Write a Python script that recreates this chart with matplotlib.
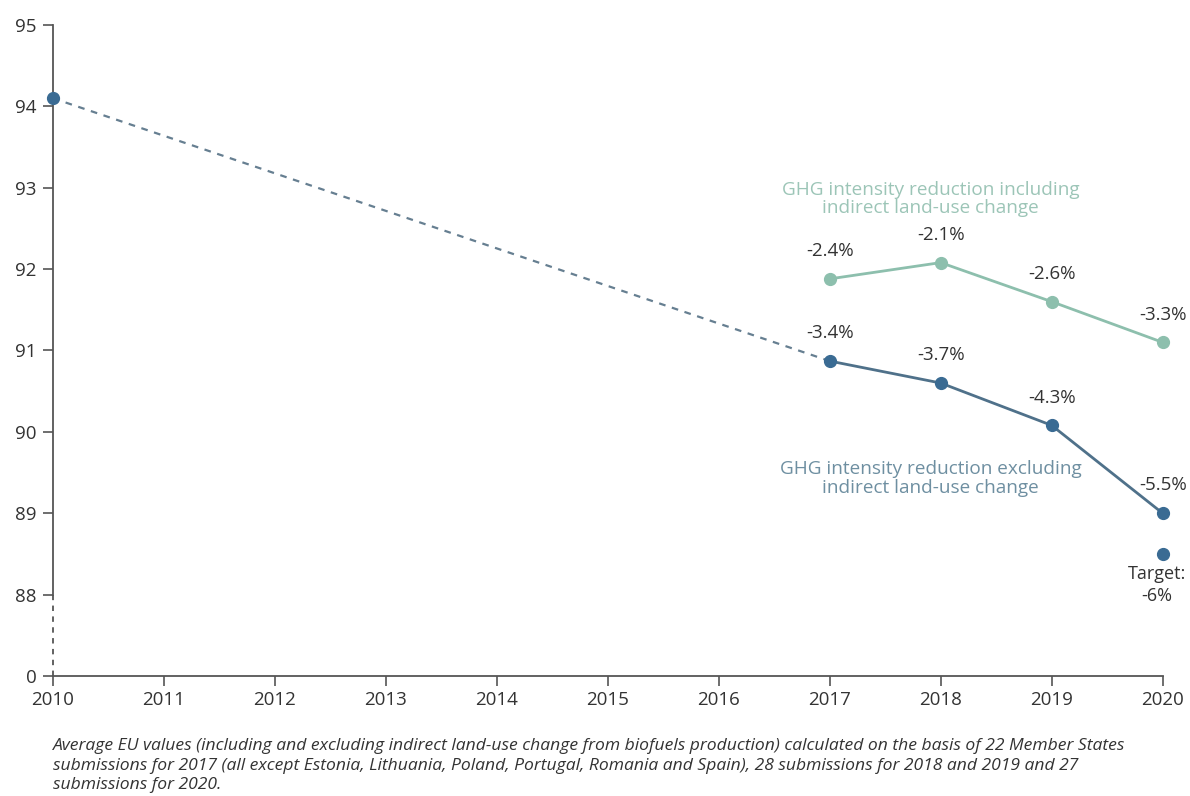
import matplotlib
matplotlib.use("Agg")
import matplotlib.pyplot as plt

plt.rcParams['font.family'] = ['Open Sans', 'DejaVu Sans']

years = [2010, 2011, 2012, 2013, 2014, 2015, 2016, 2017, 2018, 2019, 2020]
baseline_year = 2010
baseline_value = 94.1
excl_years = [2017, 2018, 2019, 2020]
excl_values = [90.87, 90.6, 90.08, 89.0]
excl_labels = ["-3.4%", "-3.7%", "-4.3%", "-5.5%"]
incl_years = [2017, 2018, 2019, 2020]
incl_values = [91.88, 92.08, 91.6, 91.1]
incl_labels = ["-2.4%", "-2.1%", "-2.6%", "-3.3%"]
target_year = 2020
target_value = 88.5
target_label = "Target:\n-6%"
ytick_values = [87, 88, 89, 90, 91, 92, 93, 94, 95]
ytick_labels = ["0", "88", "89", "90", "91", "92", "93", "94", "95"]
caption = ("Average EU values (including and excluding indirect land-use change from biofuels production) calculated on the basis of 22 Member States\n"
           "submissions for 2017 (all except Estonia, Lithuania, Poland, Portugal, Romania and Spain), 28 submissions for 2018 and 2019 and 27\n"
           "submissions for 2020.")

dark = "#3a6b93"
dark_line = "#4f718a"
light = "#8dbfad"
dash_col = "#667f91"
text_col = "#333333"

fig = plt.figure(figsize=(11.9, 7.96), dpi=100)
ax = fig.add_axes([0.0445, 0.1508, 0.9325, 0.8178])
ax.set_xlim(2010, 2020)
ax.set_ylim(87, 95)

# dashed trend from 2010 to 2017
ax.plot([baseline_year, excl_years[0]], [baseline_value, excl_values[0]],
        ls=(0, (3, 3)), color=dash_col, lw=1.6, zorder=2)
# axis break dashed segment
ax.plot([2010, 2010], [87, 88], ls=(0, (3, 3)), color="#555555", lw=1.3,
        clip_on=False, zorder=1)

ax.plot(incl_years, incl_values, color=light, lw=2, marker='o', ms=8.5,
        mfc=light, mec=light, zorder=3, clip_on=False)
ax.plot(excl_years, excl_values, color=dark_line, lw=2, marker='o', ms=8.5,
        mfc=dark, mec=dark, zorder=3, clip_on=False)
ax.plot([baseline_year], [baseline_value], marker='o', ms=8.5, color=dark,
        clip_on=False, zorder=4)
ax.plot([target_year], [target_value], marker='o', ms=8.5, color=dark,
        clip_on=False, zorder=4)

for x, y, t in zip(incl_years, incl_values, incl_labels):
    ax.annotate(t, (x, y), xytext=(0, 20), textcoords='offset points',
                ha='center', va='center', fontsize=13.5, color=text_col)
for x, y, t in zip(excl_years, excl_values, excl_labels):
    ax.annotate(t, (x, y), xytext=(0, 20), textcoords='offset points',
                ha='center', va='center', fontsize=13.5, color=text_col)
ax.annotate(target_label, (target_year, target_value), xytext=(-4, -8),
            textcoords='offset points', ha='center', va='top', fontsize=13,
            color=text_col, linespacing=1.3)

ax.text(2017.91, 92.86, "GHG intensity reduction including\nindirect land-use change",
        ha='center', va='center', fontsize=13.7, color="#9cc5b7", linespacing=1.05)
ax.text(2017.91, 89.43, "GHG intensity reduction excluding\nindirect land-use change",
        ha='center', va='center', fontsize=13.7, color="#6e8fa1", linespacing=1.05)

ax.set_xticks(years)
ax.set_xticklabels([str(y) for y in years])
ax.set_yticks(ytick_values)
ax.set_yticklabels(ytick_labels)
ax.tick_params(axis='both', labelsize=13.5, labelcolor=text_col, color="#555555",
               length=7, width=1.2)
ax.tick_params(axis='y', pad=5)
ax.tick_params(axis='x', pad=4)

for s in ['top', 'right']:
    ax.spines[s].set_visible(False)
ax.spines['left'].set_bounds(88, 95)
for s in ['left', 'bottom']:
    ax.spines[s].set_color("#555555")
    ax.spines[s].set_linewidth(1.3)

fig.text(0.0445, 0.038, caption, ha='left', va='center', fontsize=12.6,
         style='italic', color="#333333", linespacing=1.3,
         family=['Open Sans', 'DejaVu Sans'])

fig.savefig("out.png", dpi=100, facecolor='white')
